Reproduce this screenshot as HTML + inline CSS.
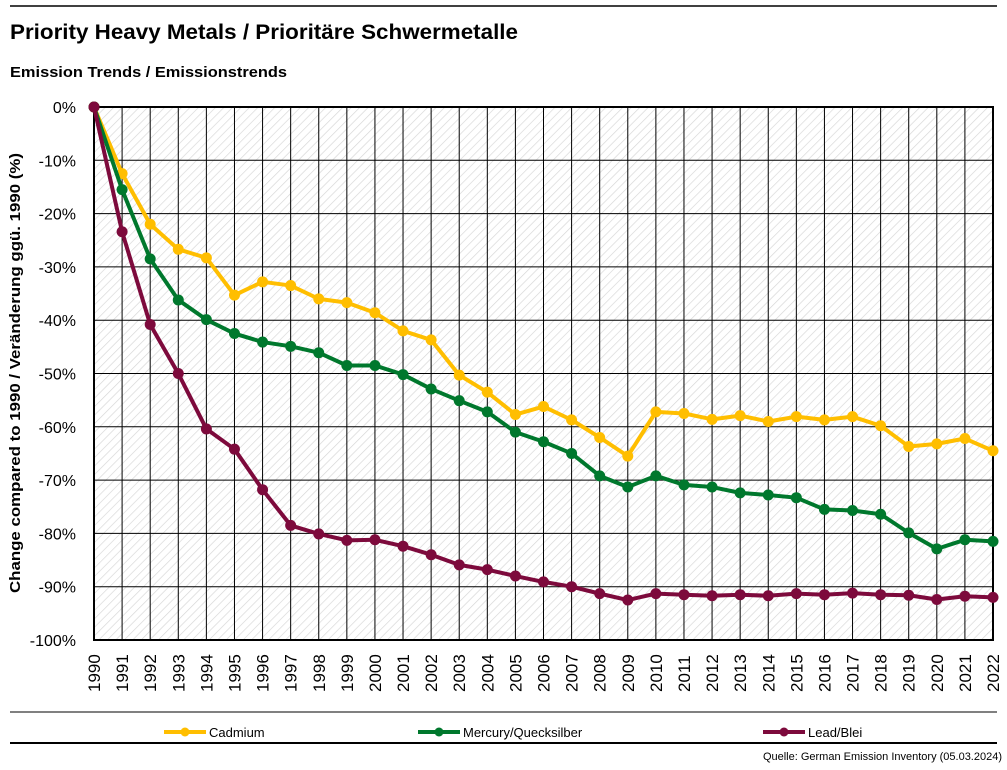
<!DOCTYPE html>
<html><head><meta charset="utf-8"><style>
body{margin:0;background:#fff;font-family:"Liberation Sans",sans-serif}
svg text{font-family:"Liberation Sans",sans-serif}
</style></head><body>
<svg id="s" width="1007" height="765" xmlns="http://www.w3.org/2000/svg">
<defs><pattern id="h" width="6" height="6" patternUnits="userSpaceOnUse" patternTransform="rotate(45)"><rect width="6" height="6" fill="#fff"/><line x1="0" y1="0" x2="0" y2="6" stroke="#d6d6d6" stroke-width="1.3"/></pattern></defs>
<line x1="10" y1="6" x2="997" y2="6" stroke="#000" stroke-width="1.5"/>
<text x="10" y="39" font-size="21" font-weight="bold" textLength="508" lengthAdjust="spacingAndGlyphs">Priority Heavy Metals / Prioritäre Schwermetalle</text>
<text x="10" y="77" font-size="15" font-weight="bold" textLength="277" lengthAdjust="spacingAndGlyphs">Emission Trends / Emissionstrends</text>
<rect x="94" y="107" width="899" height="533" fill="url(#h)"/>
<g id="grid"></g>
<rect x="94" y="107" width="899" height="533" fill="none" stroke="#000" stroke-width="2"/>
<text transform="translate(20,373) rotate(-90)" text-anchor="middle" font-size="15" font-weight="bold" textLength="440" lengthAdjust="spacingAndGlyphs">Change compared to 1990 / Veränderung ggü. 1990 (%)</text>
<g id="ser"></g>
<line x1="10" y1="712" x2="997" y2="712" stroke="#000" stroke-width="1"/>
<line x1="10" y1="743" x2="997" y2="743" stroke="#000" stroke-width="2"/>
<g font-size="13">
<line x1="164" y1="732" x2="206" y2="732" stroke="#ffbe00" stroke-width="4"/><circle cx="185" cy="732" r="4.5" fill="#ffbe00"/><text x="209" y="737">Cadmium</text>
<line x1="418" y1="732" x2="460" y2="732" stroke="#00782d" stroke-width="4"/><circle cx="439" cy="732" r="4.5" fill="#00782d"/><text x="463" y="737">Mercury/Quecksilber</text>
<line x1="763" y1="732" x2="805" y2="732" stroke="#7d0a3c" stroke-width="4"/><circle cx="784" cy="732" r="4.5" fill="#7d0a3c"/><text x="808" y="737">Lead/Blei</text>
</g>
<text x="1002" y="760" font-size="11" text-anchor="end">Quelle: German Emission Inventory (05.03.2024)</text>
</svg>
<script>
const X=i=>94+i*899/32, Y=v=>107-v*5.33;
let g='';
for(let i=1;i<32;i++)g+=`<line x1="${X(i)}" y1="107" x2="${X(i)}" y2="640" stroke="#000" stroke-width="1"/>`;
for(let k=1;k<10;k++)g+=`<line x1="94" y1="${Y(-k*10)}" x2="993" y2="${Y(-k*10)}" stroke="#000" stroke-width="1"/>`;
for(let k=0;k<=10;k++)g+=`<text x="76" y="${Y(-k*10)+6}" font-size="16" text-anchor="end">${k?'-'+k*10:0}%</text>`;
for(let i=0;i<=32;i++)g+=`<text transform="translate(${X(i)+6},692) rotate(-90)" font-size="17">${1990+i}</text>`;
document.getElementById('grid').innerHTML=g;
const D=[["#ffbe00",[0,-12.5,-22,-26.7,-28.3,-35.3,-32.8,-33.5,-36,-36.7,-38.6,-42,-43.7,-50.3,-53.5,-57.7,-56.2,-58.7,-62,-65.5,-57.2,-57.5,-58.6,-57.9,-59,-58.1,-58.7,-58.1,-59.8,-63.7,-63.2,-62.2,-64.5]],
["#00782d",[0,-15.5,-28.5,-36.2,-39.9,-42.5,-44.1,-44.9,-46.1,-48.5,-48.5,-50.2,-52.9,-55.1,-57.2,-61,-62.8,-65,-69.2,-71.3,-69.2,-70.9,-71.3,-72.4,-72.8,-73.3,-75.5,-75.7,-76.4,-79.9,-82.9,-81.2,-81.5]],
["#7d0a3c",[0,-23.4,-40.8,-50,-60.4,-64.2,-71.8,-78.5,-80.1,-81.3,-81.2,-82.4,-84,-85.9,-86.8,-88,-89.1,-90,-91.3,-92.5,-91.3,-91.5,-91.7,-91.5,-91.7,-91.3,-91.5,-91.2,-91.5,-91.6,-92.4,-91.8,-92]]];
let s='';
for(const [c,d] of D){s+=`<polyline fill="none" stroke="${c}" stroke-width="4" stroke-linejoin="round" points="${d.map((v,i)=>X(i)+','+Y(v)).join(' ')}"/>`;
d.forEach((v,i)=>s+=`<circle cx="${X(i)}" cy="${Y(v)}" r="5.5" fill="${c}"/>`);}
document.getElementById('ser').innerHTML=s;
</script>
</body></html>
